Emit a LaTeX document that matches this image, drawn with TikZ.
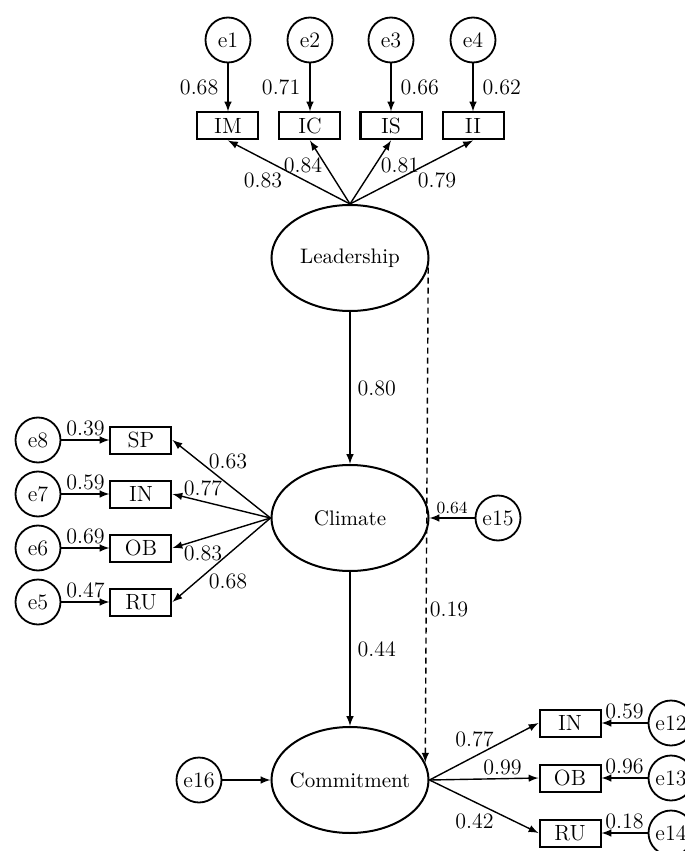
\documentclass[tikz,border=0pt]{standalone}
\usetikzlibrary{positioning,calc,shapes.geometric}
\tikzset{
  latent/.style={draw, ellipse, line width=1pt, minimum width=78.5pt, minimum height=53pt,
    inner sep=0pt, font=\fontsize{10.5}{12}\selectfont},
  manifest/.style={draw, rectangle, line width=1pt, minimum width=30.5pt, minimum height=13.5pt,
    inner sep=0pt, font=\fontsize{11}{13}\selectfont},
  err/.style={draw, circle, line width=0.9pt, minimum size=22.5pt, inner sep=0pt,
    font=\fontsize{11}{13}\selectfont},
  arr/.style={line width=0.7pt, -latex},
  coef/.style={inner sep=1.5pt, font=\fontsize{11}{13}\selectfont},
}
\begin{document}
\begin{tikzpicture}[on grid]
  \useasboundingbox (-175pt,129pt) rectangle (167.5pt,-296.5pt);
  % latent variables
  \node[latent] (L) at (0,0) {\makebox[0pt]{Leadership}};
  \node[latent, below=130pt of L] (C) {\makebox[0pt]{Climate}};
  \node[latent, below=131pt of C] (M) {\makebox[0pt]{Commitment}};
  % leadership indicators
  \node[manifest, above left=66pt and 61pt of L] (im) {IM};
  \node[manifest, above left=66pt and 20pt of L] (ic) {IC};
  \node[manifest, above right=66pt and 20.5pt of L] (is) {IS};
  \node[manifest, above right=66pt and 61.5pt of L] (ii) {II};
  \node[err, above=43pt of im] (e1) {e1};
  \node[err, above=43pt of ic] (e2) {e2};
  \node[err, above=43pt of is] (e3) {e3};
  \node[err, above=43pt of ii] (e4) {e4};
  % climate indicators
  \node[manifest, above left=39pt and 104.5pt of C] (sp) {SP};
  \node[manifest, below=27pt of sp] (cin) {IN};
  \node[manifest, below=27pt of cin] (cob) {OB};
  \node[manifest, below=27pt of cob] (cru) {RU};
  \node[err, left=51.5pt of sp] (e8) {e8};
  \node[err, left=51.5pt of cin] (e7) {e7};
  \node[err, left=51.5pt of cob] (e6) {e6};
  \node[err, left=51.5pt of cru] (e5) {e5};
  % commitment indicators
  \node[manifest, above right=28.5pt and 110pt of M] (min) {IN};
  \node[manifest, below=27.5pt of min] (mob) {OB};
  \node[manifest, below=27.5pt of mob] (mru) {RU};
  \node[err, right=50.5pt of min] (e12) {e12};
  \node[err, right=50.5pt of mob] (e13) {e13};
  \node[err, right=50.5pt of mru] (e14) {e14};
  % disturbances
  \node[err, right=74pt of C] (e15) {e15};
  \node[err, left=75.5pt of M] (e16) {e16};

  \draw[arr] (e1) -- (im) node[coef, midway, left=3pt] {0.68};
  \draw[arr] (e2) -- (ic) node[coef, midway, left=3pt] {0.71};
  \draw[arr] (e3) -- (is) node[coef, midway, right=3pt] {0.66};
  \draw[arr] (e4) -- (ii) node[coef, midway, right=3pt] {0.62};
  \draw[arr] (L.north) -- (im.south) node[coef, midway, xshift=-13pt, yshift=-4pt] {0.83};
  \draw[arr] (L.north) -- (ic.south) node[coef, midway, xshift=-13.5pt, yshift=3.5pt] {0.84};
  \draw[arr] (L.north) -- (is.south) node[coef, midway, xshift=14.75pt, yshift=3.5pt] {0.81};
  \draw[arr] (L.north) -- (ii.south) node[coef, midway, xshift=12.75pt, yshift=-4pt] {0.79};

  \draw[arr] (L) -- (C) node[coef, midway, right=2pt] {0.80};
  \draw[arr] (C) -- (M) node[coef, midway, right=2pt] {0.44};
  \draw[arr, dash pattern=on 3pt off 2pt] (L.-7) -- (M.13) node[coef, pos=.69, right] {0.19};

  \draw[arr] (e8) -- (sp) node[coef, midway, above] {0.39};
  \draw[arr] (e7) -- (cin) node[coef, midway, above] {0.59};
  \draw[arr] (e6) -- (cob) node[coef, midway, above] {0.69};
  \draw[arr] (e5) -- (cru) node[coef, midway, above] {0.47};
  \draw[arr] (C.west) -- (sp.east) node[coef, midway, xshift=3.25pt, yshift=8.75pt] {0.63};
  \draw[arr] (C.west) -- (cin.east) node[coef, midway, xshift=-9.25pt, yshift=9pt] {0.77};
  \draw[arr] (C.west) -- (cob.east) node[coef, midway, xshift=-9.25pt, yshift=-10pt] {0.83};
  \draw[arr] (C.west) -- (cru.east) node[coef, midway, xshift=3.25pt, yshift=-10.75pt] {0.68};
  \draw[arr] (e15) -- (C) node[coef, midway, above, font=\fontsize{8.5}{10}\selectfont] {0.64};

  \draw[arr] (e16) -- (M);
  \draw[arr] (M.east) -- (min.west) node[coef, midway, xshift=-4.75pt, yshift=6.25pt] {0.77};
  \draw[arr] (M.east) -- (mob.west) node[coef, midway, xshift=9.25pt, yshift=6pt] {0.99};
  \draw[arr] (M.east) -- (mru.west) node[coef, midway, xshift=-4.75pt, yshift=-7.25pt] {0.42};
  \draw[arr] (e12) -- (min) node[coef, midway, above] {0.59};
  \draw[arr] (e13) -- (mob) node[coef, midway, above] {0.96};
  \draw[arr] (e14) -- (mru) node[coef, midway, above] {0.18};
\end{tikzpicture}
\end{document}
